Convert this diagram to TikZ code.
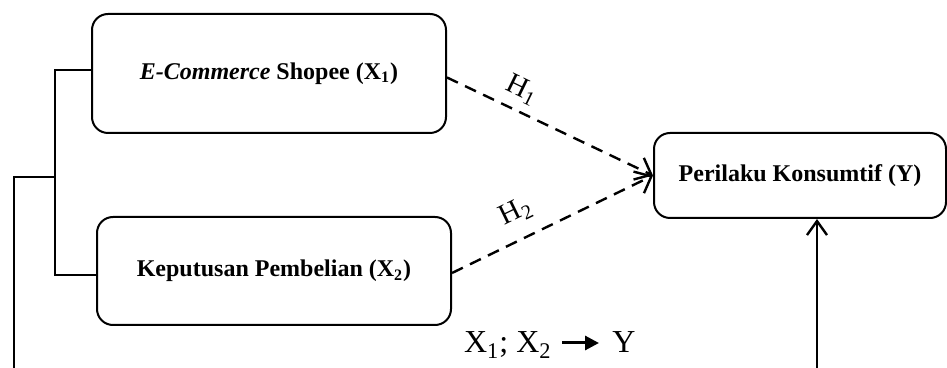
\documentclass[tikz,border=0pt]{standalone}
\usepackage{fontspec}
\setmainfont{Liberation Serif}
\usetikzlibrary{arrows.meta,calc}
\begin{document}
\begin{tikzpicture}[x=0.5pt,y=-0.5pt,
  box/.style={draw, line width=1pt, rounded corners=8pt, align=center, font=\bfseries\fontsize{12}{14}\selectfont, inner sep=0pt},
  link/.style={line width=1.3pt},
  dashlink/.style={line width=1.2pt, dash pattern=on 6pt off 4pt, -{Straight Barb[length=7pt,width=12pt]}},
  uplink/.style={line width=1.2pt, -{Straight Barb[length=7pt,width=10pt]}},
  hlab/.style={font=\fontsize{14.5}{16}\selectfont, inner sep=0pt},
  eqlab/.style={font=\fontsize{16}{18}\selectfont, inner sep=0pt}]
\useasboundingbox (0,0) rectangle (947,368);
\node[box, minimum width=177pt, minimum height=59.5pt] (x1) at (269,73.5) {\textit{E-Commerce} Shopee (X\textsubscript{1})};
\node[box, minimum width=177pt, minimum height=54pt] (x2) at (274,271) {Keputusan Pembelian (X\textsubscript{2})};
\node[box, minimum width=146pt, minimum height=42.5pt] (y) at (800,175.5) {Perilaku Konsumtif (Y)};
\coordinate (b) at (55,177);
\coordinate (a) at (14,177);
\coordinate (bot) at (14,370);
\coordinate (ybot) at (817,370);
\draw[link] ([yshift=1.75pt]x1.west) -| (b) |- ([yshift=-2pt]x2.west);
\draw[link] (b) -- (a) -- (bot);
\draw[dashlink] ([yshift=-2pt]x1.east) -- (y.west);
\draw[dashlink] ([yshift=-1pt]x2.east) -- (y.west);
\draw[uplink] (ybot) -- (ybot |- y.south);
\node[hlab, rotate=-26] (h1) at (522,90) {H\textsubscript{1}};
\node[hlab, rotate=26] (h2) at (516,212) {H\textsubscript{2}};
\node[eqlab, anchor=base east] (lhs) at (552,353) {X\textsubscript{1}; X\textsubscript{2}};
\node[eqlab, anchor=base west] (rhs) at (612,353) {Y};
\draw[line width=1.5pt, -{Triangle[length=7pt,width=7pt]}] ($(lhs.base east)+(10,-10)$) -- ($(rhs.base west)+(-13,-10)$);
\end{tikzpicture}
\end{document}
